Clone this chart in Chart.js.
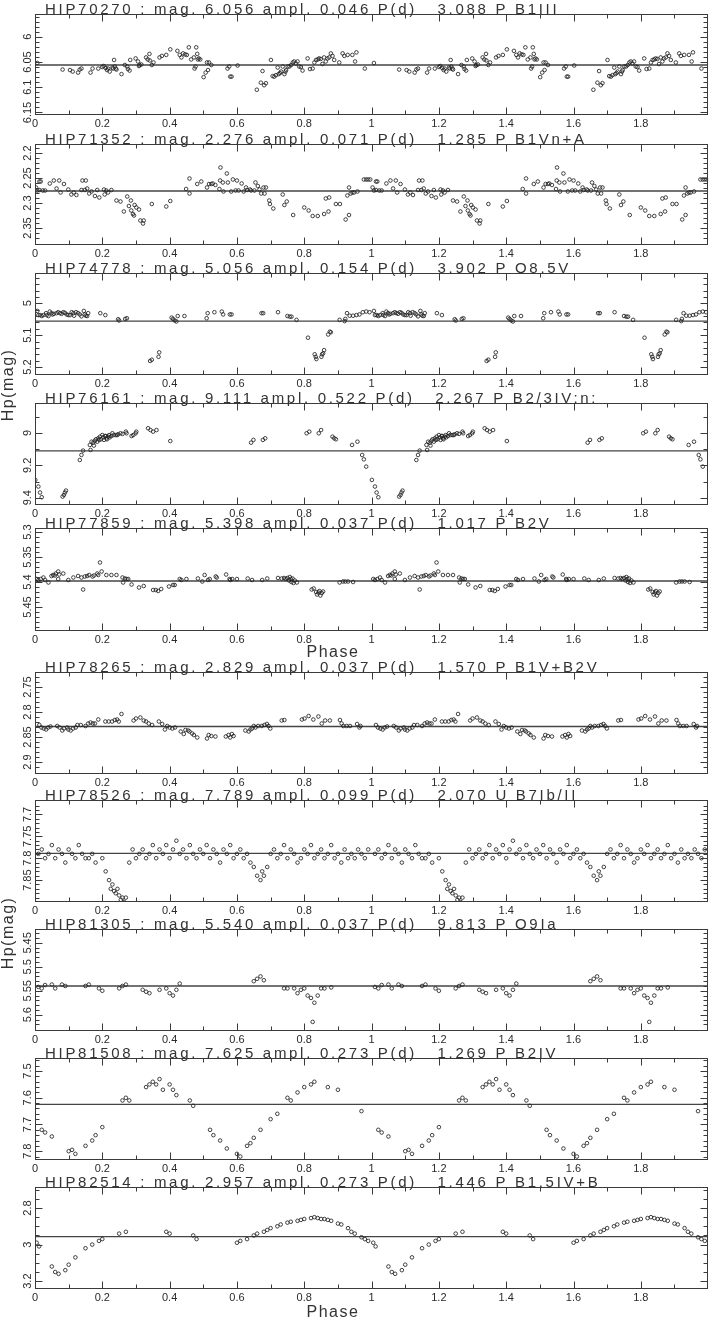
<!DOCTYPE html>
<html><head><meta charset="utf-8">
<script src="https://cdn.jsdelivr.net/npm/chart.js@4/dist/chart.umd.min.js"></script>
<style>
html,body{margin:0;padding:0;background:#fff;}
#wrap{position:relative;width:713px;height:1321px;overflow:hidden;background:#fff;}
#wrap canvas{position:absolute;left:0;}
.lab{position:absolute;font-family:"Liberation Sans",Arial,sans-serif;font-size:16px;color:#333;letter-spacing:1.5px;white-space:nowrap;line-height:16px;}
</style></head><body><div id="wrap"></div>
<script>
// ---------- DATA ----------
const stars = ['HIP70270','HIP71352','HIP74778','HIP76161','HIP77859','HIP78265','HIP78526','HIP81305','HIP81508','HIP82514'];
const meanMag = [6.056, 2.276, 5.056, 9.111, 5.398, 2.829, 7.789, 5.540, 7.625, 2.957];
const amplitude = [0.046, 0.071, 0.154, 0.522, 0.037, 0.037, 0.099, 0.037, 0.273, 0.273];
const periodDays = [3.088, 1.285, 3.902, 2.267, 1.017, 1.570, 2.070, 9.813, 1.269, 1.446];
const varFlag = ['P','P','P','P','P','P','U','P','P','P'];
const spType = ['B1III','B1Vn+A','O8.5V','B2/3IV:n:','B2V','B1V+B2V','B7Ib/II','O9Ia','B2IV','B1.5IV+B'];
const phaseTickLabels = ['0','0.2','0.4','0.6','0.8','1','1.2','1.4','1.6','1.8'];
const magTickLabels = [
  ['6','6.05','6.1','6.15'], ['2.2','2.25','2.3','2.35'], ['5','5.1','5.2'], ['9','9.2','9.4'],
  ['5.3','5.35','5.4','5.45'], ['2.75','2.8','2.85','2.9'], ['7.7','7.75','7.8','7.85'],
  ['5.45','5.5','5.55','5.6'], ['7.5','7.6','7.7','7.8'], ['2.8','3','3.2']
];
// one cycle of [phase, Hp mag]; the plot shows phase 0-2 (each point repeated at phase+1)
const hip70270 = [[0.007,6.052],[0.082,6.065],[0.104,6.066],[0.112,6.069],[0.128,6.071],[0.133,6.065],[0.138,6.063],[0.165,6.071],[0.171,6.063],[0.188,6.063],[0.200,6.060],[0.204,6.058],[0.210,6.062],[0.214,6.066],[0.217,6.063],[0.222,6.069],[0.230,6.061],[0.232,6.063],[0.235,6.046],[0.237,6.059],[0.240,6.063],[0.242,6.065],[0.257,6.074],[0.267,6.056],[0.274,6.059],[0.276,6.064],[0.281,6.067],[0.283,6.046],[0.299,6.043],[0.306,6.049],[0.309,6.058],[0.311,6.056],[0.316,6.055],[0.330,6.041],[0.335,6.045],[0.340,6.034],[0.341,6.047],[0.347,6.056],[0.352,6.051],[0.370,6.041],[0.377,6.038],[0.390,6.036],[0.402,6.025],[0.423,6.028],[0.430,6.036],[0.435,6.041],[0.440,6.033],[0.446,6.035],[0.451,6.036],[0.457,6.021],[0.464,6.045],[0.472,6.041],[0.474,6.063],[0.477,6.059],[0.479,6.021],[0.482,6.034],[0.484,6.045],[0.487,6.043],[0.491,6.045],[0.501,6.080],[0.507,6.071],[0.511,6.051],[0.514,6.066],[0.517,6.051],[0.524,6.056],[0.572,6.063],[0.577,6.059],[0.580,6.079],[0.584,6.079],[0.602,6.057],[0.659,6.105],[0.671,6.091],[0.676,6.068],[0.681,6.096],[0.686,6.092],[0.701,6.046],[0.706,6.078],[0.711,6.079],[0.716,6.076],[0.721,6.061],[0.724,6.074],[0.728,6.072],[0.731,6.069],[0.736,6.059],[0.741,6.074],[0.744,6.069],[0.746,6.066],[0.751,6.059],[0.756,6.059],[0.761,6.056],[0.766,6.051],[0.770,6.049],[0.775,6.053],[0.780,6.049],[0.785,6.059],[0.790,6.060],[0.795,6.067],[0.810,6.043],[0.817,6.064],[0.825,6.063],[0.830,6.051],[0.835,6.046],[0.840,6.045],[0.844,6.043],[0.849,6.044],[0.854,6.054],[0.859,6.041],[0.864,6.049],[0.869,6.043],[0.874,6.041],[0.879,6.033],[0.884,6.038],[0.889,6.046],[0.904,6.051],[0.914,6.033],[0.919,6.038],[0.929,6.036],[0.943,6.036],[0.951,6.049],[0.955,6.031],[0.980,6.063]];
const hip71352 = [[0.003,2.269],[0.007,2.275],[0.013,2.257],[0.017,2.257],[0.013,2.274],[0.023,2.275],[0.030,2.275],[0.044,2.261],[0.056,2.255],[0.064,2.271],[0.072,2.255],[0.076,2.279],[0.086,2.262],[0.099,2.273],[0.108,2.283],[0.115,2.279],[0.123,2.284],[0.138,2.274],[0.141,2.255],[0.148,2.274],[0.151,2.255],[0.155,2.271],[0.161,2.281],[0.168,2.277],[0.178,2.286],[0.185,2.274],[0.191,2.289],[0.205,2.273],[0.207,2.283],[0.212,2.275],[0.217,2.279],[0.227,2.274],[0.242,2.295],[0.254,2.297],[0.264,2.317],[0.274,2.287],[0.279,2.306],[0.285,2.295],[0.286,2.315],[0.291,2.322],[0.294,2.325],[0.296,2.304],[0.301,2.309],[0.309,2.313],[0.313,2.335],[0.321,2.341],[0.323,2.335],[0.347,2.302],[0.390,2.307],[0.402,2.296],[0.449,2.272],[0.459,2.251],[0.459,2.281],[0.482,2.262],[0.494,2.257],[0.511,2.269],[0.517,2.262],[0.524,2.262],[0.528,2.261],[0.536,2.264],[0.548,2.272],[0.551,2.229],[0.550,2.255],[0.558,2.259],[0.560,2.277],[0.570,2.241],[0.573,2.259],[0.583,2.277],[0.588,2.253],[0.596,2.275],[0.600,2.255],[0.605,2.275],[0.614,2.261],[0.620,2.277],[0.627,2.269],[0.630,2.274],[0.639,2.273],[0.642,2.275],[0.652,2.275],[0.655,2.259],[0.662,2.266],[0.667,2.273],[0.672,2.281],[0.679,2.269],[0.682,2.281],[0.686,2.269],[0.696,2.295],[0.698,2.302],[0.708,2.311],[0.736,2.283],[0.741,2.304],[0.748,2.297],[0.767,2.324],[0.800,2.309],[0.813,2.315],[0.825,2.326],[0.840,2.326],[0.859,2.322],[0.864,2.291],[0.872,2.317],[0.874,2.289],[0.894,2.302],[0.906,2.302],[0.923,2.333],[0.928,2.285],[0.933,2.324],[0.933,2.269],[0.938,2.281],[0.943,2.279],[0.948,2.279],[0.958,2.277],[0.977,2.253],[0.984,2.253],[0.990,2.253],[0.996,2.253]];
const hip74778 = [[0.007,5.024],[0.010,5.037],[0.015,5.037],[0.020,5.040],[0.025,5.037],[0.033,5.031],[0.035,5.037],[0.040,5.040],[0.044,5.026],[0.049,5.031],[0.052,5.035],[0.056,5.033],[0.064,5.031],[0.069,5.028],[0.074,5.031],[0.079,5.033],[0.084,5.028],[0.089,5.030],[0.094,5.035],[0.099,5.037],[0.104,5.037],[0.109,5.028],[0.114,5.031],[0.116,5.039],[0.122,5.028],[0.128,5.031],[0.133,5.035],[0.138,5.041],[0.145,5.024],[0.148,5.035],[0.151,5.039],[0.155,5.040],[0.158,5.031],[0.194,5.031],[0.209,5.037],[0.247,5.050],[0.250,5.054],[0.268,5.049],[0.273,5.047],[0.342,5.181],[0.347,5.177],[0.367,5.168],[0.369,5.154],[0.406,5.045],[0.410,5.049],[0.415,5.054],[0.420,5.057],[0.424,5.040],[0.444,5.040],[0.510,5.047],[0.513,5.031],[0.533,5.028],[0.555,5.026],[0.559,5.035],[0.579,5.035],[0.584,5.035],[0.673,5.031],[0.678,5.031],[0.722,5.028],[0.750,5.040],[0.757,5.042],[0.762,5.042],[0.777,5.052],[0.811,5.108],[0.831,5.160],[0.834,5.168],[0.836,5.175],[0.851,5.168],[0.853,5.160],[0.856,5.157],[0.859,5.147],[0.871,5.098],[0.876,5.089],[0.879,5.091],[0.905,5.052],[0.920,5.056],[0.922,5.049],[0.927,5.031],[0.935,5.039],[0.945,5.039],[0.955,5.037],[0.964,5.035],[0.974,5.028],[0.984,5.026],[0.994,5.028]];
const hip76161 = [[0.001,9.290],[0.010,9.331],[0.015,9.368],[0.020,9.397],[0.082,9.393],[0.086,9.383],[0.089,9.368],[0.092,9.356],[0.133,9.167],[0.138,9.136],[0.143,9.109],[0.163,9.074],[0.165,9.105],[0.168,9.054],[0.173,9.060],[0.175,9.078],[0.178,9.048],[0.181,9.039],[0.185,9.054],[0.188,9.033],[0.191,9.043],[0.193,9.023],[0.196,9.039],[0.200,9.013],[0.203,9.027],[0.205,9.043],[0.208,9.019],[0.210,9.019],[0.212,9.033],[0.214,9.039],[0.217,9.023],[0.220,9.013],[0.222,9.027],[0.227,9.019],[0.230,9.002],[0.234,9.013],[0.240,9.013],[0.244,9.013],[0.247,9.008],[0.254,9.002],[0.260,9.006],[0.270,8.992],[0.272,9.002],[0.287,9.019],[0.292,9.013],[0.299,9.002],[0.301,8.992],[0.336,8.971],[0.343,8.982],[0.351,8.992],[0.361,8.982],[0.402,9.050],[0.642,9.060],[0.649,9.043],[0.677,9.043],[0.684,9.033],[0.807,9.002],[0.815,8.992],[0.843,9.002],[0.850,8.982],[0.884,9.023],[0.889,9.033],[0.894,9.039],[0.942,9.074],[0.958,9.054],[0.972,9.136],[0.977,9.163],[0.984,9.208]];
const hip77859 = [[0.005,5.394],[0.010,5.396],[0.017,5.394],[0.025,5.391],[0.030,5.396],[0.040,5.401],[0.049,5.388],[0.054,5.386],[0.059,5.387],[0.062,5.383],[0.069,5.379],[0.069,5.394],[0.072,5.385],[0.084,5.383],[0.099,5.396],[0.114,5.391],[0.128,5.388],[0.138,5.391],[0.143,5.415],[0.148,5.389],[0.155,5.388],[0.161,5.386],[0.171,5.389],[0.175,5.387],[0.185,5.383],[0.188,5.386],[0.193,5.361],[0.198,5.379],[0.212,5.386],[0.227,5.386],[0.242,5.386],[0.260,5.391],[0.262,5.401],[0.267,5.393],[0.272,5.394],[0.277,5.394],[0.287,5.405],[0.309,5.411],[0.323,5.408],[0.351,5.416],[0.359,5.416],[0.366,5.418],[0.375,5.414],[0.398,5.409],[0.410,5.406],[0.415,5.406],[0.430,5.394],[0.435,5.396],[0.450,5.394],[0.484,5.393],[0.497,5.399],[0.504,5.386],[0.514,5.396],[0.519,5.394],[0.537,5.389],[0.540,5.391],[0.568,5.385],[0.578,5.394],[0.580,5.396],[0.586,5.394],[0.600,5.394],[0.632,5.393],[0.645,5.396],[0.675,5.396],[0.690,5.393],[0.722,5.392],[0.733,5.393],[0.740,5.392],[0.745,5.394],[0.750,5.392],[0.755,5.397],[0.757,5.390],[0.760,5.394],[0.762,5.400],[0.765,5.393],[0.768,5.402],[0.772,5.397],[0.778,5.401],[0.822,5.415],[0.828,5.413],[0.835,5.420],[0.838,5.425],[0.842,5.421],[0.845,5.418],[0.848,5.427],[0.852,5.422],[0.856,5.419],[0.905,5.401],[0.915,5.399],[0.922,5.399],[0.930,5.399],[0.945,5.400]];
const hip78265 = [[0.957,2.824],[0.964,2.831],[0.967,2.828],[0.013,2.826],[0.019,2.831],[0.026,2.833],[0.033,2.835],[0.039,2.831],[0.046,2.829],[0.066,2.828],[0.073,2.831],[0.081,2.837],[0.086,2.833],[0.096,2.831],[0.099,2.835],[0.106,2.837],[0.113,2.833],[0.121,2.831],[0.126,2.826],[0.136,2.826],[0.150,2.828],[0.158,2.823],[0.165,2.821],[0.172,2.823],[0.178,2.823],[0.188,2.815],[0.209,2.819],[0.219,2.819],[0.229,2.819],[0.237,2.816],[0.244,2.815],[0.249,2.819],[0.257,2.804],[0.293,2.817],[0.300,2.813],[0.313,2.811],[0.323,2.817],[0.330,2.819],[0.338,2.823],[0.348,2.826],[0.368,2.819],[0.378,2.824],[0.386,2.835],[0.393,2.828],[0.400,2.831],[0.408,2.833],[0.416,2.831],[0.433,2.839],[0.442,2.844],[0.447,2.836],[0.455,2.837],[0.459,2.839],[0.467,2.843],[0.472,2.846],[0.482,2.851],[0.511,2.853],[0.516,2.846],[0.524,2.848],[0.536,2.849],[0.567,2.849],[0.575,2.846],[0.580,2.851],[0.585,2.844],[0.590,2.848],[0.625,2.837],[0.635,2.839],[0.640,2.835],[0.645,2.833],[0.650,2.828],[0.655,2.831],[0.663,2.828],[0.674,2.828],[0.682,2.826],[0.689,2.824],[0.694,2.828],[0.699,2.833],[0.733,2.817],[0.741,2.816],[0.793,2.815],[0.801,2.813],[0.813,2.808],[0.827,2.815],[0.842,2.809],[0.852,2.823],[0.862,2.817],[0.876,2.817],[0.906,2.816],[0.911,2.823],[0.916,2.828],[0.926,2.828],[0.936,2.828]];
const hip78526 = [[0.01,7.79],[0.02,7.78],[0.03,7.80],[0.04,7.79],[0.05,7.77],[0.06,7.80],[0.07,7.78],[0.08,7.79],[0.09,7.81],[0.10,7.78],[0.11,7.79],[0.12,7.80],[0.13,7.77],[0.14,7.79],[0.15,7.80],[0.16,7.80],[0.17,7.79],[0.18,7.81],[0.20,7.80],[0.21,7.83],[0.22,7.85],[0.225,7.87],[0.23,7.86],[0.235,7.875],[0.24,7.88],[0.245,7.87],[0.25,7.885],[0.255,7.895],[0.26,7.89],[0.265,7.90],[0.27,7.89],[0.28,7.81],[0.29,7.78],[0.30,7.80],[0.31,7.79],[0.32,7.78],[0.33,7.80],[0.34,7.79],[0.35,7.77],[0.36,7.80],[0.37,7.78],[0.38,7.79],[0.39,7.77],[0.40,7.80],[0.41,7.78],[0.42,7.76],[0.43,7.79],[0.44,7.78],[0.45,7.80],[0.46,7.77],[0.47,7.79],[0.48,7.80],[0.49,7.78],[0.50,7.79],[0.51,7.77],[0.52,7.80],[0.53,7.78],[0.54,7.79],[0.55,7.81],[0.56,7.78],[0.57,7.79],[0.58,7.77],[0.59,7.80],[0.60,7.79],[0.61,7.78],[0.62,7.80],[0.63,7.79],[0.64,7.81],[0.65,7.82],[0.66,7.84],[0.67,7.85],[0.675,7.83],[0.68,7.84],[0.69,7.82],[0.70,7.79],[0.71,7.78],[0.72,7.80],[0.73,7.79],[0.74,7.77],[0.75,7.80],[0.76,7.78],[0.77,7.79],[0.78,7.81],[0.79,7.80],[0.80,7.78],[0.81,7.79],[0.82,7.77],[0.83,7.80],[0.84,7.79],[0.85,7.78],[0.86,7.80],[0.87,7.79],[0.88,7.77],[0.89,7.80],[0.90,7.79],[0.91,7.81],[0.92,7.78],[0.93,7.80],[0.94,7.79],[0.95,7.80],[0.96,7.78],[0.97,7.79],[0.98,7.80],[0.99,7.78]];
const hip81305 = [[0.01,5.542],[0.02,5.545],[0.03,5.538],[0.05,5.537],[0.06,5.545],[0.08,5.537],[0.09,5.540],[0.15,5.540],[0.16,5.537],[0.19,5.545],[0.20,5.550],[0.25,5.545],[0.26,5.540],[0.27,5.537],[0.32,5.548],[0.33,5.552],[0.34,5.555],[0.37,5.548],[0.39,5.545],[0.40,5.555],[0.41,5.560],[0.42,5.548],[0.43,5.535],[0.65,5.530],[0.66,5.525],[0.67,5.520],[0.68,5.528],[0.74,5.545],[0.75,5.545],[0.77,5.545],[0.78,5.555],[0.79,5.548],[0.80,5.545],[0.81,5.560],[0.82,5.565],[0.825,5.615],[0.83,5.575],[0.84,5.560],[0.85,5.545],[0.86,5.545],[0.88,5.543]];
const hip81508 = [[0.02,7.72],[0.03,7.73],[0.05,7.745],[0.10,7.80],[0.11,7.795],[0.12,7.81],[0.15,7.78],[0.17,7.76],[0.18,7.74],[0.20,7.71],[0.26,7.61],[0.27,7.60],[0.28,7.61],[0.33,7.56],[0.34,7.55],[0.35,7.54],[0.36,7.55],[0.37,7.53],[0.38,7.57],[0.40,7.55],[0.41,7.57],[0.42,7.59],[0.46,7.61],[0.47,7.63],[0.52,7.72],[0.53,7.74],[0.55,7.76],[0.57,7.79],[0.60,7.81],[0.61,7.82],[0.63,7.78],[0.64,7.77],[0.65,7.75],[0.67,7.72],[0.70,7.68],[0.72,7.66],[0.75,7.60],[0.76,7.61],[0.78,7.58],[0.80,7.56],[0.82,7.55],[0.83,7.54],[0.87,7.56],[0.90,7.57],[0.97,7.65]];
const hip82514 = [[0.005,2.99],[0.012,3.01],[0.05,3.12],[0.06,3.15],[0.07,3.16],[0.09,3.14],[0.10,3.11],[0.12,3.07],[0.15,3.02],[0.17,3.00],[0.19,2.98],[0.20,2.97],[0.25,2.94],[0.27,2.93],[0.39,2.93],[0.40,2.94],[0.47,2.95],[0.48,2.97],[0.60,2.99],[0.61,2.98],[0.63,2.97],[0.65,2.95],[0.66,2.94],[0.68,2.93],[0.69,2.92],[0.70,2.91],[0.72,2.90],[0.73,2.89],[0.75,2.88],[0.76,2.875],[0.78,2.87],[0.79,2.865],[0.80,2.86],[0.82,2.855],[0.83,2.85],[0.84,2.855],[0.85,2.86],[0.86,2.86],[0.87,2.865],[0.88,2.87],[0.90,2.885],[0.91,2.89],[0.93,2.91],[0.94,2.93],[0.95,2.94],[0.97,2.96],[0.98,2.97],[0.99,2.98]];
const seriesList = [hip70270, hip71352, hip74778, hip76161, hip77859, hip78265, hip78526, hip81305, hip81508, hip82514];

// ---------- LAYOUT / STYLE ----------
const W = 713, PLOT_LEFT = 35, PLOT_RIGHT = 710;
const panelTop = [14, 144, 273, 403, 528, 672, 800, 929, 1058, 1187];
const plotHeight = [101, 101, 102, 102, 103, 102, 102, 102, 102, 102];
const yMin = [5.955, 2.182, 4.905, 8.815, 5.292, 2.720, 7.667, 5.421, 7.451, 2.685];
const yMax = [6.155, 2.384, 5.225, 9.445, 5.498, 2.924, 7.900, 5.634, 7.833, 3.243];
const minorStep = [0.01, 0.01, 0.02, 0.1, 0.01, 0.01, 0.01, 0.01, 0.02, 0.05];
const FONT = '"Liberation Sans", Arial, sans-serif';

function titleText(i){
  return stars[i] + ' : mag. ' + meanMag[i].toFixed(3) + ' ampl. ' + amplitude[i].toFixed(3) +
    ' P(d)   ' + periodDays[i].toFixed(3) + ' ' + varFlag[i] + ' ' + spType[i];
}

function framePlugin(i){
  return {
    id: 'frame' + i,
    afterDraw(chart){
      const {ctx, chartArea: a, scales: {x, y}} = chart;
      ctx.save();
      ctx.strokeStyle = '#3a3a3a'; ctx.lineWidth = 1;
      const L = Math.round(a.left) + 0.5, R = Math.round(a.right) - 0.5;
      const T = Math.round(a.top) + 0.5, B = Math.round(a.bottom) - 0.5;
      ctx.strokeRect(L, T, R - L, B - T);
      ctx.beginPath();
      for (let k = 1; k < 20; k++){
        const px = Math.round(x.getPixelForValue(k / 10)) + 0.5;
        const len = (k % 2 === 0) ? 7 : 4;
        ctx.moveTo(px, T); ctx.lineTo(px, T + len);
        ctx.moveTo(px, B); ctx.lineTo(px, B - len);
      }
      const step = minorStep[i];
      const majors = magTickLabels[i].map(Number);
      const k0 = Math.ceil(yMin[i] / step - 1e-6), k1 = Math.floor(yMax[i] / step + 1e-6);
      for (let k = k0; k <= k1; k++){
        const v = k * step;
        const py = Math.round(y.getPixelForValue(v)) + 0.5;
        if (py <= T + 1 || py >= B - 1) continue;
        const isMajor = majors.some(m => Math.abs(m - v) < step / 10);
        const len = isMajor ? 7 : 4;
        ctx.moveTo(L, py); ctx.lineTo(L + len, py);
        ctx.moveTo(R, py); ctx.lineTo(R - len, py);
      }
      ctx.stroke();
      ctx.fillStyle = '#2a2a2a';
      ctx.font = '11px ' + FONT;
      ctx.textAlign = 'center'; ctx.textBaseline = 'middle';
      phaseTickLabels.forEach(t => ctx.fillText(t, x.getPixelForValue(Number(t)), a.bottom + 9));
      magTickLabels[i].forEach(t => {
        ctx.save();
        ctx.translate(28, y.getPixelForValue(Number(t)));
        ctx.rotate(-Math.PI / 2);
        ctx.fillText(t, 0, 0);
        ctx.restore();
      });
      ctx.fillStyle = '#333';
      ctx.font = '15px ' + FONT;
      ctx.letterSpacing = '2.7px';
      ctx.textAlign = 'left'; ctx.textBaseline = 'alphabetic';
      ctx.fillText(titleText(i), a.left + 10, a.top);
      ctx.restore();
    }
  };
}

const wrap = document.getElementById('wrap');
const PAD_TOP = 18, PAD_BOTTOM = 20;
seriesList.forEach((series, i) => {
  const c = document.createElement('canvas');
  c.width = W; c.height = plotHeight[i] + PAD_TOP + PAD_BOTTOM;
  c.style.top = (panelTop[i] - PAD_TOP) + 'px';
  wrap.appendChild(c);
  const pts = [];
  series.forEach(([p, m]) => { pts.push({x: p, y: m}); pts.push({x: p + 1, y: m}); });
  new Chart(c, {
    type: 'scatter',
    data: { datasets: [
      { data: pts, pointRadius: 1.8, pointBorderWidth: 0.85, borderColor: '#222', backgroundColor: 'rgba(0,0,0,0)', pointStyle: 'circle', order: 1 },
      { type: 'line', data: [{x: 0, y: meanMag[i]}, {x: 2, y: meanMag[i]}], borderColor: '#444', borderWidth: 1.3, pointRadius: 0, order: 2 }
    ]},
    options: {
      responsive: false, animation: false, devicePixelRatio: 1, events: [],
      layout: { padding: { left: PLOT_LEFT, right: W - PLOT_RIGHT, top: PAD_TOP, bottom: PAD_BOTTOM } },
      plugins: { legend: { display: false }, tooltip: { enabled: false }, title: { display: false } },
      scales: {
        x: { type: 'linear', min: 0, max: 2, display: false },
        y: { type: 'linear', min: yMin[i], max: yMax[i], reverse: true, display: false }
      }
    },
    plugins: [framePlugin(i)]
  });
});

function addLabel(text, cx, cy, rotate){
  const d = document.createElement('div');
  d.className = 'lab';
  d.textContent = text;
  wrap.appendChild(d);
  const w = d.offsetWidth, h = d.offsetHeight;
  d.style.left = (cx - w / 2) + 'px';
  d.style.top = (cy - h / 2) + 'px';
  if (rotate) d.style.transform = 'rotate(-90deg)';
}
addLabel('Hp(mag)', 8, 385, true);
addLabel('Hp(mag)', 8, 933, true);
addLabel('Phase', 333, 652, false);
addLabel('Phase', 333, 1312, false);
</script>
</body></html>
